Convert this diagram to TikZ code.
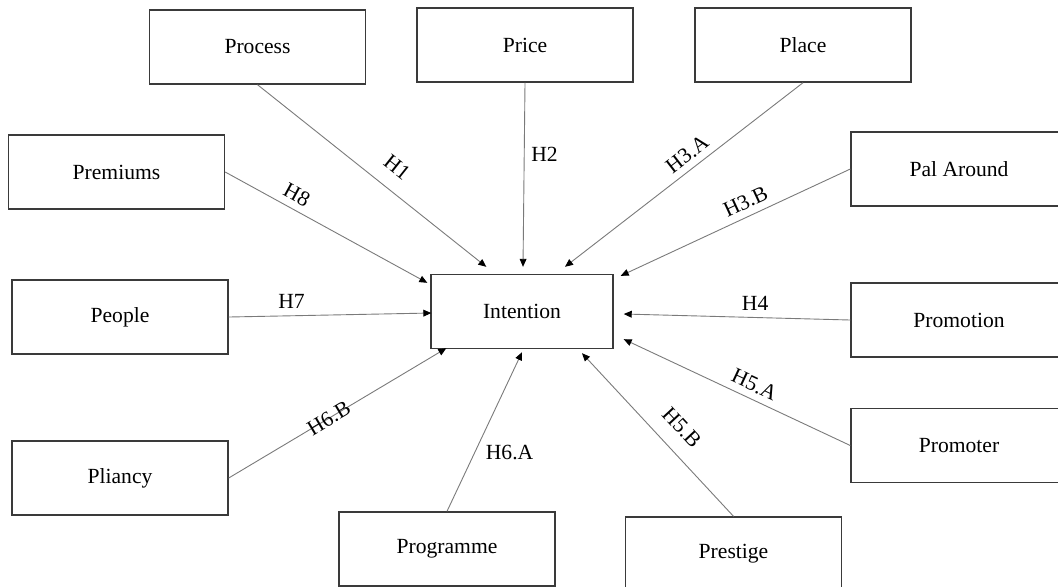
\documentclass[tikz,border=0pt]{standalone}
\usepackage{fontspec}
\setmainfont{Liberation Serif}
\usetikzlibrary{arrows.meta, positioning, calc}
\definecolor{boxline}{HTML}{3A3A3A}
\definecolor{linkline}{HTML}{7A7A7A}

\begin{document}
\begin{tikzpicture}[
    x=0.5pt, y=-0.5pt,
    box/.style={rectangle, draw=boxline, line width=0.7pt, minimum width=#1,
                minimum height=37pt, inner sep=0pt, align=center,
                font=\fontsize{10.8}{13}\selectfont},
    box/.default=108pt,
    arrow/.style={-{Triangle[length=4pt, width=3.4pt, color=black]},
                  line width=0.45pt, color=linkline},
    hyp/.style={font=\fontsize{10.8}{13}\selectfont, text=black}
]
\useasboundingbox (0,0) rectangle (1058,586);

% Outer constructs (top row)
\node[box] (process) at (257.5,47) {Process};
\node[box] (price) at (525,45) {Price};
\node[box] (place) at (803,45) {Place};

% Left column
\node[box] (premiums) at (116.5,172) {Premiums};
\node[box] (people) at (120,317) {People};
\node[box] (pliancy) at (120,478) {Pliancy};

% Right column
\node[box] (palaround) at (959,169) {Pal Around};
\node[box] (promotion) at (959,320) {Promotion};
\node[box] (promoter) at (959,445.5) {Promoter};

% Bottom row
\node[box] (programme) at (447,549) {Programme};
\node[box] (prestige) at (733.5,554) {Prestige};

% Centre
\node[box=91pt] (intention) at (522,311.5) {Intention};

% Arrow ends near Intention
\coordinate (endH1) at ($(intention.north west)+(56,-7)$);
\coordinate (endH2) at ($(intention.north)+(1,-7)$);
\coordinate (endH3a) at ($(intention.north)+(43,-7)$);
\coordinate (endH3b) at ($(intention.north east)+(7,2)$);
\coordinate (endH8) at ($(intention.north west)+(-3,9)$);
\coordinate (endH7) at ($(intention.west)+(1,1.5)$);
\coordinate (endH6b) at ($(intention.south west)+(16,-1)$);
\coordinate (endH6a) at ($(intention.south)+(0,3)$);
\coordinate (endH5b) at ($(intention.south)+(60,4)$);
\coordinate (endH5a) at ($(intention.south east)+(10,-10)$);
\coordinate (endH4) at ($(intention.east)+(10,2.5)$);

% Hypotheses
\draw[arrow] (process.south) -- (endH1)
    node[hyp, pos=0.55, sloped, above=4pt] {H1};
\draw[arrow] (price.south) -- (endH2)
    node[hyp, pos=0.39, right=0pt] {H2};
\draw[arrow] (place.south) -- (endH3a)
    node[hyp, pos=0.45, sloped, above] {H3.A};
\draw[arrow] (palaround.west) -- (endH3b)
    node[hyp, pos=0.43, sloped, above] {H3.B};
\draw[arrow] (promotion.west) -- (endH4)
    node[hyp, pos=0.42, above] {H4};
\draw[arrow] (promoter.west) -- (endH5a)
    node[hyp, pos=0.45, sloped, above] {H5.A};
\draw[arrow] (prestige.north) -- (endH5b)
    node[hyp, pos=0.45, sloped, above=4pt] {H5.B};
\draw[arrow] (programme.north) -- (endH6a)
    node[hyp, pos=0.37, right=2pt] {H6.A};
\draw[arrow] (pliancy.east) -- (endH6b)
    node[hyp, pos=0.46, sloped] {H6.B};
\draw[arrow] (people.east) -- (endH7)
    node[hyp, pos=0.31, above] {H7};
\draw[arrow] (premiums.east) -- (endH8)
    node[hyp, pos=0.32, sloped, above] {H8};

\end{tikzpicture}
\end{document}
